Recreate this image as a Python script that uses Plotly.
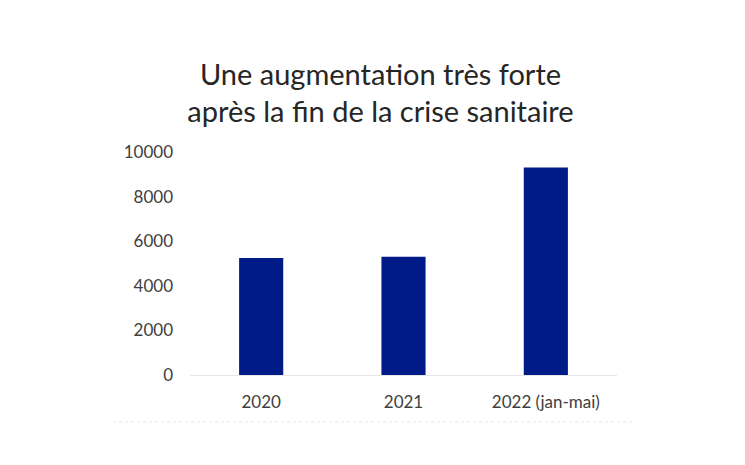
import plotly.graph_objects as go

categories = ['2020', '2021', '2022 (jan-mai)']
values = [5250, 5300, 9300]
y_ticks = [0, 2000, 4000, 6000, 8000, 10000]
y_ticktext = ['0', '2000', '4000', '6000', '8000', '10000']

fig = go.Figure(go.Bar(
    x=categories,
    y=values,
    marker=dict(color='#001A87', line=dict(width=0)),
    width=0.31
))

fig.update_layout(
    width=745, height=465,
    margin=dict(l=182, r=136, t=144, b=98),
    paper_bgcolor='white', plot_bgcolor='white',
    font=dict(family='Lato, Carlito, sans-serif', size=17, color='#404040'),
    title=dict(text='Une augmentation très forte<br>après la fin de la crise sanitaire',
               x=0.5, xanchor='center', y=0.835, yanchor='middle',
               font=dict(size=29, color='#262626')),
    showlegend=False,
)
fig.update_xaxes(showline=True, linecolor='#E6E6E6', linewidth=1, ticks='',
                 showgrid=False, ticklabelstandoff=12, tickfont=dict(size=17))
fig.update_yaxes(range=[0, 10000], tickvals=y_ticks, ticktext=y_ticktext,
                 showgrid=False, zeroline=False, showline=False, ticks='',
                 ticklabelstandoff=16, tickfont=dict(size=17))

# faint dotted border under the chart
fig.add_shape(type='line', xref='paper', yref='paper', x0=-0.18, x1=1.04,
              y0=-0.21, y1=-0.21, line=dict(color='#E6E6E6', width=1, dash='dot'))

fig.write_html('out.html')
